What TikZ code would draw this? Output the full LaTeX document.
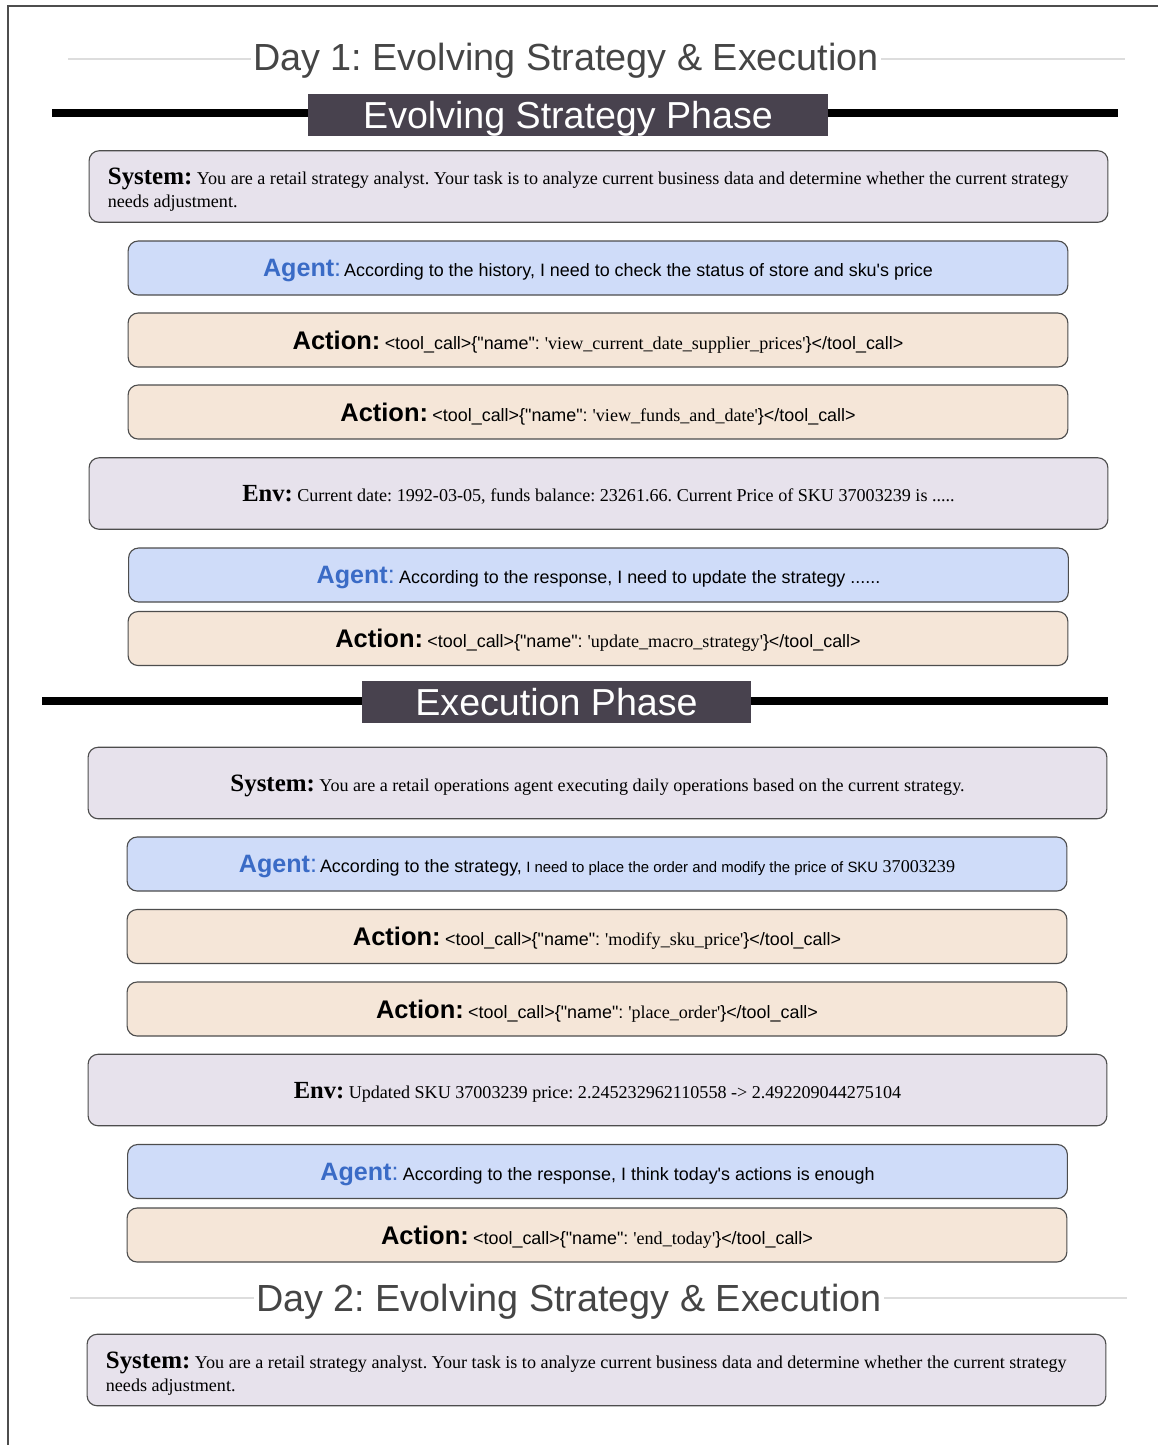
\documentclass[tikz,border=0pt]{standalone}
\usepackage{fontspec}
\setmainfont{Liberation Serif}[Ligatures=TeXOff]
\setsansfont{Liberation Sans}[Ligatures=TeXOff]
\definecolor{lav}{HTML}{E7E2EC}
\definecolor{agbg}{HTML}{CFDCF9}
\definecolor{acbg}{HTML}{F5E6D8}
\definecolor{bord}{HTML}{4D4D4D}
\definecolor{agblue}{HTML}{3A6BC6}
\definecolor{phasecol}{HTML}{48424E}
\definecolor{ttl}{HTML}{454545}
\definecolor{thinline}{HTML}{DDDDDD}
\newcommand\fsz[2]{\fontsize{#1}{#2}\selectfont}
\newcommand\agentlbl{{\sffamily\color{agblue}\fsz{14.3}{17}{\bfseries Agent}:}}
\newcommand\actlbl{{\sffamily\bfseries\fsz{14.5}{17}Action:}}
\newcommand\syslbl{{\rmfamily\bfseries\fsz{14.2}{16}System:}}
\newcommand\envlbl{{\rmfamily\bfseries\fsz{14}{16}Env:}}
\newcommand\tcall[1]{{\sffamily\fsz{10.2}{12}<tool\_call>\{"name": {\rmfamily\fsz{10.3}{12}'#1'}\}</tool\_call>}}
\newcommand\agtxt[1]{{\sffamily\fsz{10.2}{12}#1}}
\newcommand\sertxt[1]{{\rmfamily\fsz{10.3}{13}#1}}
\begin{document}
\frenchspacing
\begin{tikzpicture}[x=0.02cm,y=-0.02cm,
  box/.style={draw=bord, line width=0.65pt, rounded corners=0.2cm, inner sep=0pt, align=center},
  sysbox/.style={box, fill=lav, minimum width=20.38cm, minimum height=1.43cm},
  envbox/.style={sysbox, text height=9.3pt, text depth=0pt},
  agentbox/.style={box, fill=agbg, minimum width=18.8cm, minimum height=1.08cm, text height=10pt, text depth=0pt},
  actbox/.style={box, fill=acbg, minimum width=18.8cm, minimum height=1.08cm, text height=10.4pt, text depth=0pt},
  daytitle/.style={font=\sffamily\fsz{21.5}{24}, text=ttl, fill=white, inner xsep=1.5pt, inner ysep=1pt, anchor=base},
  phasebox/.style={fill=phasecol, text=white, font=\sffamily\fsz{21.4}{24}, minimum height=0.84cm, inner sep=0pt, text height=15.3pt, text depth=0pt},
  barline/.style={line width=4.2pt, black},
  daylinestyle/.style={thinline, line width=0.7pt},
  systext/.style={anchor=west, align=left, inner sep=0pt, font=\rmfamily\fsz{10.3}{13}}
]
\useasboundingbox (0,0) rectangle (1158,1445);
\fill[white] (0,0) rectangle (1158,1445);
\draw[bord, line width=0.6pt] (8,1445) -- (8,6) -- (1158,6);

% Day 1 title
\draw[daylinestyle] (68,59) -- (1125,59);
\node[daytitle] (day1) at (566,70) {Day 1: Evolving Strategy \& Execution};

% Evolving strategy phase bar
\draw[barline] (52,113) -- (1118,113);
\node[phasebox, minimum width=10.4cm] (phase1) at (568,115) {Evolving Strategy Phase};

\node[sysbox] (s1) at (598.5,186.5) {};
\node[systext] (s1t) at ([xshift=19*0.02cm, yshift=-3.5*0.02cm]s1.west) {\syslbl{} You are a retail strategy analyst. Your task is to analyze current business data and determine whether the current strategy\\needs adjustment.};

\node[agentbox] (a1) at (598,268) {\agentlbl\,\agtxt{According to the history, I need to check the status of store and sku's price}};
\node[actbox] (c1) at (598,340) {\actlbl{} \tcall{view\_current\_date\_supplier\_prices}};
\node[actbox] (c2) at (598,412) {\actlbl{} \tcall{view\_funds\_and\_date}};
\node[envbox] (e1) at (598.5,493.5) {\envlbl{} \sertxt{Current date: 1992-03-05, funds balance: 23261.66. Current Price of SKU 37003239 is .....}};
\node[agentbox] (a2) at (598.5,575) {\agentlbl{} \agtxt{According to the response, I need to update the strategy ......}};
\node[actbox] (c3) at (598,638.5) {\actlbl{} \tcall{update\_macro\_strategy}};

% Execution phase bar
\draw[barline] (42,701) -- (1108,701);
\node[phasebox, minimum width=7.78cm] (phase2) at (556.5,702) {Execution Phase};

\node[envbox] (s2) at (597.5,783) {\syslbl{} \sertxt{You are a retail operations agent executing daily operations based on the current strategy.}};
\node[agentbox] (a3) at (597,864) {\agentlbl\,\agtxt{According to the strategy,} {\sffamily\fsz{8.5}{10}I need to place the order and modify the price of SKU} {\rmfamily\fsz{10.3}{12}37003239}};
\node[actbox] (c4) at (597,936.5) {\actlbl{} \tcall{modify\_sku\_price}};
\node[actbox] (c5) at (597,1009) {\actlbl{} \tcall{place\_order}};
\node[envbox] (e2) at (597.5,1090) {\envlbl{} \sertxt{Updated SKU 37003239 price: 2.245232962110558 -> 2.492209044275104}};
\node[agentbox] (a4) at (597.5,1171.5) {\agentlbl{} \agtxt{According to the response, I think today's actions is enough}};
\node[actbox] (c6) at (597,1235) {\actlbl{} \tcall{end\_today}};

% Day 2 title
\draw[daylinestyle] (70,1298) -- (1127,1298);
\node[daytitle] (day2) at (569,1311) {Day 2: Evolving Strategy \& Execution};

\node[sysbox] (s3) at (596.5,1370) {};
\node[systext] (s3t) at ([xshift=19*0.02cm, yshift=-3.5*0.02cm]s3.west) {\syslbl{} You are a retail strategy analyst. Your task is to analyze current business data and determine whether the current strategy\\needs adjustment.};
\end{tikzpicture}
\end{document}
